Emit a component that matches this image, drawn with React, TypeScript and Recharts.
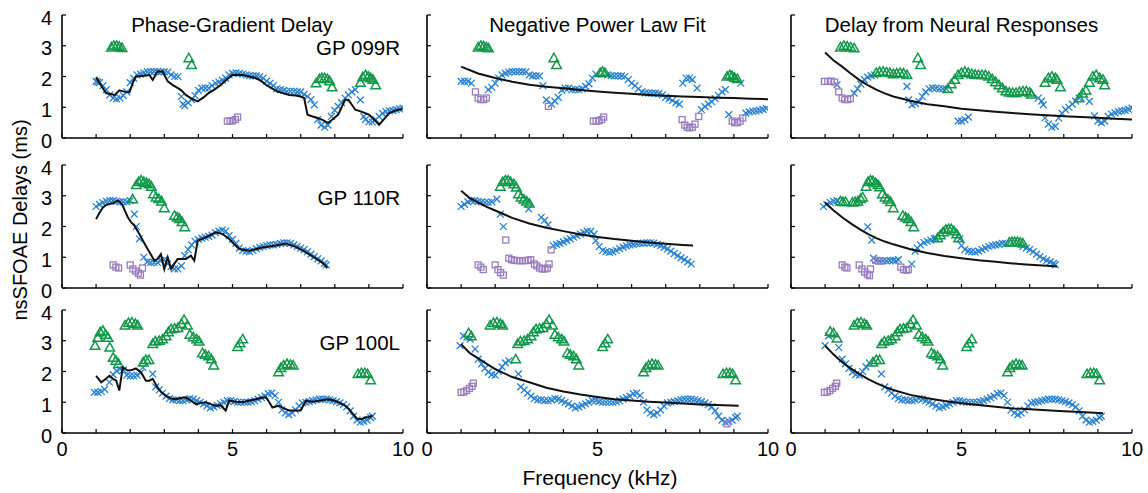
import { Scatter, ScatterChart, XAxis, YAxis } from "recharts"

type Pt = [number, number]

// axis ticks and labels
const xTicks = [0, 1, 2, 3, 4, 5, 6, 7, 8, 9, 10]
const xTickLabels = [0, 5, 10]
const yTicks = [0, 1, 2, 3, 4]
const columnTitles = ["Phase-Gradient Delay", "Negative Power Law Fit", "Delay from Neural Responses"]
const rowLabels = ["GP 099R", "GP 110R", "GP 100L"]

// ---- GP 099R ----
const r1c1Blue: Pt[] = [[1.0,1.84],[1.05,1.82],[1.1,1.8],[1.2,1.7],[1.3,1.57],[1.4,1.4],[1.5,1.3],[1.6,1.27],[1.7,1.3],[1.8,1.38],[1.9,1.5],[2.0,1.8],[2.1,1.95],[2.2,2.05],[2.3,2.08],[2.4,2.12],[2.5,2.15],[2.6,2.16],[2.7,2.16],[2.8,2.16],[2.9,2.15],[3.0,2.15],[3.1,2.14],[3.2,2.05],[3.3,2.0],[3.4,2.0],[3.5,1.35],[3.55,1.1],[3.6,1.05],[3.7,1.15],[3.8,1.25],[3.9,1.38],[4.0,1.55],[4.1,1.62],[4.2,1.62],[4.3,1.62],[4.4,1.7],[4.5,1.78],[4.6,1.82],[4.7,1.88],[4.8,1.95],[4.9,2.05],[5.0,2.1],[5.1,2.12],[5.2,2.1],[5.3,2.08],[5.4,2.05],[5.5,2.03],[5.6,2.02],[5.7,2.02],[5.8,2.0],[5.9,1.95],[6.0,1.85],[6.1,1.78],[6.2,1.7],[6.3,1.6],[6.4,1.57],[6.5,1.55],[6.6,1.52],[6.7,1.52],[6.8,1.52],[6.9,1.5],[7.0,1.5],[7.1,1.42],[7.2,1.35],[7.3,1.25],[7.4,1.08],[7.5,0.6],[7.6,0.42],[7.7,0.35],[7.8,0.42],[7.9,0.7],[8.0,0.9],[8.1,1.03],[8.2,1.15],[8.3,1.3],[8.4,1.4],[8.5,1.5],[8.6,1.57],[8.75,1.24],[8.85,0.7],[8.9,0.6],[9.0,0.52],[9.1,0.52],[9.2,0.6],[9.3,0.7],[9.4,0.8],[9.5,0.86],[9.6,0.88],[9.7,0.9],[9.8,0.92],[9.9,0.95],[10.0,0.97]]
const r1c1Green: Pt[] = [[1.45,2.95],[1.52,3.0],[1.6,3.0],[1.68,2.97],[1.76,2.93],[3.72,2.6],[3.8,2.38],[7.45,1.78],[7.55,1.92],[7.62,1.95],[7.7,1.95],[7.78,1.92],[7.85,1.85],[7.92,1.65],[8.75,1.8],[8.82,1.98],[8.9,2.05],[8.98,2.0],[9.05,1.95],[9.12,1.9],[9.2,1.72]]
const r1c1Purple: Pt[] = [[4.85,0.55],[4.93,0.55],[5.0,0.56],[5.08,0.6],[5.15,0.68]]
const r1c1Line: Pt[] = [[1.0,1.98],[1.15,1.7],[1.29,1.46],[1.45,1.42],[1.55,1.4],[1.68,1.55],[1.85,1.5],[1.98,1.49],[2.08,1.8],[2.17,2.0],[2.35,2.02],[2.56,2.05],[2.66,1.89],[2.8,2.16],[2.95,2.16],[3.1,1.84],[3.25,1.72],[3.4,1.62],[3.5,1.55],[3.63,1.4],[3.8,1.28],[3.98,1.19],[4.15,1.32],[4.3,1.46],[4.5,1.6],[4.66,1.73],[4.85,1.92],[5.0,2.05],[5.15,2.06],[5.3,2.05],[5.5,2.0],[5.68,1.95],[5.85,1.85],[5.98,1.73],[6.15,1.62],[6.32,1.51],[6.5,1.45],[6.66,1.4],[6.85,1.38],[7.0,1.35],[7.1,1.3],[7.2,0.76],[7.35,0.7],[7.5,0.65],[7.65,0.58],[7.8,0.49],[7.95,0.62],[8.1,0.76],[8.2,1.0],[8.3,1.24],[8.4,1.24],[8.5,1.08],[8.6,0.92],[8.8,0.85],[9.0,0.76],[9.15,0.6],[9.3,0.43],[9.45,0.62],[9.6,0.81],[9.8,0.9],[9.98,0.94]]

const r1c2Blue: Pt[] = [[1.0,1.84],[1.1,1.84],[1.2,1.84],[1.3,1.78],[1.8,1.57],[1.9,1.65],[2.0,1.78],[2.1,1.95],[2.2,2.05],[2.3,2.1],[2.4,2.14],[2.5,2.16],[2.6,2.16],[2.7,2.16],[2.8,2.16],[2.9,2.15],[3.0,2.05],[3.1,2.02],[3.2,2.02],[3.3,2.02],[3.4,1.7],[3.5,1.24],[3.65,1.1],[3.75,1.2],[3.85,1.32],[3.95,1.55],[4.05,1.62],[4.15,1.62],[4.25,1.57],[4.35,1.57],[4.45,1.57],[4.55,1.6],[4.65,1.68],[4.75,1.76],[4.85,1.95],[4.95,2.08],[5.3,2.05],[5.4,2.03],[5.5,2.02],[5.6,2.02],[5.7,2.02],[5.8,2.0],[5.9,1.9],[6.0,1.78],[6.1,1.7],[6.2,1.6],[6.3,1.5],[6.4,1.47],[6.5,1.46],[6.6,1.46],[6.7,1.46],[6.8,1.44],[6.9,1.4],[7.0,1.32],[7.1,1.28],[7.2,1.22],[7.3,1.15],[7.4,1.1],[7.5,1.78],[7.6,1.95],[7.7,1.95],[7.78,1.9],[7.92,1.62],[8.05,0.92],[8.15,1.02],[8.25,1.1],[8.35,1.18],[8.45,1.28],[8.55,1.38],[8.65,1.5],[8.75,1.57],[8.85,0.76],[9.2,1.78],[9.35,0.81],[9.45,0.85],[9.55,0.87],[9.65,0.88],[9.75,0.9],[9.85,0.93],[9.95,0.96]]
const r1c2Green: Pt[] = [[1.5,2.95],[1.58,3.0],[1.66,2.98],[1.74,2.95],[1.8,2.92],[3.72,2.6],[3.8,2.38],[5.08,2.12],[5.15,2.16],[5.22,2.12],[8.8,2.0],[8.88,2.05],[8.95,2.02],[9.02,1.96],[9.1,1.92]]
const r1c2Purple: Pt[] = [[1.42,1.5],[1.5,1.3],[1.58,1.25],[1.66,1.25],[1.74,1.3],[3.56,1.03],[4.88,0.55],[4.96,0.55],[5.04,0.56],[5.12,0.6],[5.18,0.68],[7.48,0.6],[7.56,0.42],[7.63,0.35],[7.7,0.33],[7.78,0.35],[7.86,0.45],[7.97,0.7],[8.95,0.55],[9.02,0.5],[9.1,0.5],[9.18,0.55],[9.26,0.65]]
const r1c2Fit: Pt[] = [[1.0,2.32],[1.5,2.1],[2.0,1.95],[2.5,1.83],[3.0,1.73],[3.5,1.67],[4.0,1.62],[4.5,1.56],[5.0,1.51],[5.5,1.47],[6.0,1.44],[6.5,1.4],[7.0,1.37],[7.5,1.35],[8.0,1.33],[8.5,1.31],[9.0,1.3],[9.5,1.28],[10.0,1.26]]

const r1c3Blue: Pt[] = [[1.35,1.73],[1.85,1.46],[1.95,1.6],[2.05,1.75],[2.15,1.9],[2.25,1.98],[2.35,2.03],[2.45,2.05],[3.4,1.68],[3.45,1.24],[3.55,1.08],[3.65,1.12],[3.75,1.18],[3.85,1.35],[3.95,1.5],[4.05,1.6],[4.15,1.63],[4.25,1.62],[4.35,1.6],[4.45,1.6],[4.55,1.6],[4.9,0.55],[5.0,0.55],[5.1,0.6],[5.2,0.68],[7.25,1.3],[7.35,1.2],[7.4,1.08],[7.45,0.65],[7.55,0.45],[7.65,0.35],[7.75,0.38],[7.85,0.65],[7.95,0.8],[8.05,0.92],[8.15,1.0],[8.25,1.1],[8.35,1.2],[8.45,1.3],[8.75,1.19],[8.9,0.72],[9.0,0.55],[9.1,0.5],[9.2,0.55],[9.3,0.7],[9.4,0.78],[9.5,0.82],[9.6,0.86],[9.7,0.88],[9.8,0.9],[9.9,0.93],[10.0,0.97]]
const r1c3Green: Pt[] = [[1.45,2.95],[1.55,3.0],[1.65,2.98],[1.75,2.95],[1.85,2.92],[3.72,2.6],[3.8,2.38],[2.5,2.12],[2.6,2.15],[2.7,2.16],[2.8,2.14],[2.9,2.12],[3.0,2.08],[3.1,2.1],[3.2,2.12],[3.3,2.1],[3.4,2.05],[4.6,1.6],[4.7,1.75],[4.8,1.9],[4.9,2.05],[5.0,2.12],[5.1,2.16],[5.2,2.12],[5.3,2.08],[5.4,2.06],[5.5,2.05],[5.6,2.05],[5.7,2.05],[5.8,2.0],[5.9,1.92],[6.0,1.82],[6.1,1.72],[6.2,1.62],[6.3,1.52],[6.4,1.48],[6.5,1.47],[6.6,1.47],[6.7,1.5],[6.8,1.52],[6.9,1.52],[7.0,1.48],[7.05,1.42],[7.45,1.8],[7.55,1.95],[7.65,2.0],[7.75,1.95],[7.8,1.9],[7.9,1.65],[8.45,1.3],[8.55,1.45],[8.65,1.55],[8.75,1.8],[8.85,2.0],[8.95,2.05],[9.05,1.95],[9.15,1.9],[9.2,1.72]]
const r1c3Purple: Pt[] = [[0.98,1.84],[1.08,1.84],[1.18,1.85],[1.28,1.82],[1.4,1.5],[1.5,1.3],[1.58,1.25],[1.66,1.25],[1.74,1.28]]
const r1c3Fit: Pt[] = [[1.0,2.78],[1.25,2.52],[1.5,2.32],[1.75,2.1],[2.0,1.89],[2.25,1.72],[2.5,1.57],[2.75,1.45],[3.0,1.35],[3.5,1.21],[4.0,1.1],[4.5,1.03],[5.0,0.95],[5.5,0.9],[6.0,0.85],[6.5,0.81],[7.0,0.77],[7.5,0.74],[8.0,0.71],[8.5,0.68],[9.0,0.66],[9.5,0.63],[10.0,0.6]]

// ---- GP 110R ----
const r2c1Blue: Pt[] = [[1.0,2.65],[1.1,2.72],[1.2,2.78],[1.3,2.82],[1.4,2.84],[1.5,2.84],[1.6,2.82],[1.7,2.8],[1.8,2.8],[1.9,2.8],[2.0,2.84],[2.12,2.4],[2.18,2.0],[2.27,1.6],[2.4,1.0],[2.5,0.85],[2.6,0.83],[2.7,0.83],[2.8,0.83],[2.9,0.9],[3.0,0.92],[3.1,0.78],[3.2,0.7],[3.3,0.62],[3.4,0.62],[3.5,0.72],[3.6,1.05],[3.7,1.25],[3.8,1.4],[3.9,1.52],[4.0,1.58],[4.1,1.62],[4.2,1.65],[4.3,1.68],[4.4,1.72],[4.5,1.8],[4.6,1.85],[4.7,1.88],[4.8,1.85],[4.9,1.7],[5.0,1.58],[5.1,1.45],[5.2,1.3],[5.3,1.22],[5.4,1.2],[5.5,1.18],[5.6,1.22],[5.7,1.28],[5.8,1.32],[5.9,1.35],[6.0,1.38],[6.1,1.4],[6.2,1.4],[6.3,1.42],[6.4,1.45],[6.5,1.47],[6.6,1.47],[6.7,1.45],[6.8,1.4],[6.9,1.35],[7.0,1.3],[7.1,1.25],[7.2,1.18],[7.3,1.1],[7.4,1.02],[7.5,0.95],[7.6,0.88],[7.7,0.8],[7.75,0.75]]
const r2c1Green: Pt[] = [[2.07,2.89],[2.18,3.35],[2.25,3.45],[2.32,3.5],[2.4,3.45],[2.48,3.42],[2.56,3.38],[2.62,3.3],[2.68,3.05],[2.76,2.95],[2.84,2.9],[2.92,2.82],[3.0,2.6],[3.3,2.35],[3.38,2.3],[3.45,2.25],[3.52,2.15],[3.6,1.98]]
const r2c1Purple: Pt[] = [[1.5,0.75],[1.58,0.68],[1.66,0.65],[2.0,0.75],[2.08,0.62],[2.16,0.55],[2.24,0.48],[2.3,0.42],[2.36,0.65]]
const r2c1Line: Pt[] = [[1.0,2.24],[1.1,2.45],[1.2,2.62],[1.3,2.7],[1.39,2.73],[1.5,2.76],[1.63,2.84],[1.7,2.8],[1.78,2.68],[1.85,2.5],[1.93,2.3],[2.02,2.15],[2.12,2.03],[2.22,1.85],[2.32,1.65],[2.42,1.45],[2.51,1.27],[2.61,1.08],[2.71,0.89],[2.8,0.94],[2.9,1.1],[3.0,0.62],[3.1,1.0],[3.2,0.62],[3.3,0.8],[3.39,0.94],[3.63,0.94],[3.78,1.05],[3.88,0.89],[3.98,1.54],[4.12,1.6],[4.32,1.7],[4.5,1.81],[4.7,1.76],[4.9,1.6],[5.05,1.42],[5.2,1.27],[5.5,1.21],[5.87,1.32],[6.27,1.38],[6.56,1.45],[6.85,1.34],[7.05,1.22],[7.24,1.1],[7.54,0.89],[7.66,0.8],[7.78,0.65]]

const r2c2Blue: Pt[] = [[1.0,2.65],[1.1,2.72],[1.2,2.8],[1.3,2.84],[1.4,2.84],[1.5,2.82],[1.6,2.8],[1.7,2.78],[1.8,2.78],[1.9,2.8],[2.05,2.89],[2.15,2.4],[2.24,2.0],[2.98,2.57],[3.35,2.3],[3.45,2.2],[3.55,2.05],[3.7,1.38],[3.8,1.42],[3.9,1.45],[4.0,1.5],[4.1,1.55],[4.2,1.6],[4.3,1.65],[4.4,1.7],[4.5,1.75],[4.6,1.8],[4.7,1.84],[4.8,1.84],[4.9,1.75],[4.95,1.54],[5.05,1.35],[5.15,1.22],[5.25,1.18],[5.35,1.16],[5.45,1.18],[5.55,1.22],[5.65,1.28],[5.75,1.33],[5.85,1.37],[5.95,1.4],[6.05,1.42],[6.15,1.44],[6.25,1.45],[6.35,1.46],[6.45,1.47],[6.55,1.47],[6.65,1.46],[6.75,1.42],[6.85,1.38],[6.95,1.32],[7.05,1.27],[7.15,1.2],[7.25,1.12],[7.35,1.05],[7.45,0.98],[7.55,0.92],[7.65,0.85],[7.75,0.78]]
const r2c2Green: Pt[] = [[2.15,3.3],[2.22,3.45],[2.3,3.5],[2.38,3.5],[2.45,3.45],[2.55,3.38],[2.62,3.27],[2.68,3.05],[2.76,2.95],[2.84,2.88],[2.92,2.82],[3.0,2.75]]
const r2c2Purple: Pt[] = [[1.5,0.75],[1.58,0.68],[1.65,0.6],[2.0,0.75],[2.08,0.6],[2.16,0.5],[2.24,0.42],[2.31,1.56],[2.4,0.97],[2.48,0.92],[2.56,0.9],[2.64,0.89],[2.72,0.89],[2.8,0.89],[2.88,0.89],[2.96,0.9],[3.04,0.92],[3.15,0.78],[3.22,0.72],[3.3,0.65],[3.38,0.62],[3.46,0.62],[3.53,0.65],[3.58,0.78],[3.64,1.24]]
const r2c2Fit: Pt[] = [[1.0,3.16],[1.25,2.93],[1.5,2.78],[1.75,2.64],[2.0,2.52],[2.5,2.28],[3.0,2.1],[3.5,1.96],[4.0,1.85],[4.5,1.74],[5.0,1.66],[5.5,1.59],[6.0,1.54],[6.5,1.48],[7.0,1.44],[7.5,1.4],[7.8,1.38]]

const r2c3Blue: Pt[] = [[0.95,2.65],[1.05,2.72],[1.15,2.78],[1.25,2.82],[1.35,2.84],[2.25,1.99],[2.37,1.56],[2.42,0.97],[2.5,0.9],[2.6,0.88],[2.7,0.88],[2.8,0.88],[2.9,0.9],[3.0,0.9],[3.08,0.88],[3.15,0.92],[3.54,0.78],[3.64,1.2],[3.7,1.3],[3.8,1.4],[3.9,1.48],[4.0,1.52],[4.1,1.56],[4.2,1.6],[4.25,1.62],[4.95,1.6],[5.0,1.38],[5.1,1.25],[5.2,1.2],[5.3,1.18],[5.4,1.17],[5.5,1.2],[5.6,1.25],[5.7,1.3],[5.8,1.35],[5.9,1.38],[6.0,1.4],[6.1,1.42],[6.2,1.45],[6.3,1.45],[6.8,1.35],[6.9,1.3],[7.0,1.25],[7.1,1.18],[7.2,1.1],[7.3,1.02],[7.4,0.95],[7.5,0.9],[7.6,0.85],[7.7,0.8],[7.75,0.76]]
const r2c3Green: Pt[] = [[1.45,2.82],[1.52,2.8],[1.6,2.8],[1.8,2.78],[1.88,2.8],[1.96,2.82],[2.04,2.9],[2.1,2.95],[2.2,3.3],[2.26,3.45],[2.33,3.5],[2.4,3.48],[2.48,3.42],[2.55,3.35],[2.6,3.28],[2.68,3.05],[2.76,2.95],[2.84,2.88],[2.92,2.8],[3.0,2.6],[3.28,2.35],[3.36,2.3],[3.44,2.25],[3.52,2.15],[3.6,1.98],[4.3,1.62],[4.38,1.72],[4.46,1.82],[4.54,1.9],[4.62,1.92],[4.7,1.92],[4.78,1.85],[4.86,1.75],[4.92,1.62],[6.4,1.48],[6.48,1.5],[6.56,1.5],[6.64,1.5],[6.72,1.48],[6.8,1.45]]
const r2c3Purple: Pt[] = [[1.5,0.75],[1.58,0.68],[1.64,0.65],[2.0,0.75],[2.08,0.62],[2.16,0.52],[2.24,0.45],[2.3,0.4],[2.33,0.62],[2.48,0.9],[2.56,0.88],[2.64,0.88],[3.22,0.68],[3.3,0.6],[3.38,0.58],[3.44,0.6]]
const r2c3Fit: Pt[] = [[1.0,2.78],[1.25,2.52],[1.5,2.3],[1.75,2.1],[2.0,1.92],[2.25,1.76],[2.5,1.62],[2.75,1.51],[3.0,1.42],[3.5,1.26],[4.0,1.14],[4.5,1.04],[5.0,0.97],[5.5,0.9],[6.0,0.85],[6.5,0.8],[7.0,0.76],[7.5,0.72],[7.8,0.7]]

// ---- GP 100L ----
const r3BlueTail: Pt[] = [[2.75,1.5],[2.85,1.4],[2.95,1.3],[3.05,1.2],[3.15,1.12],[3.25,1.08],[3.35,1.08],[3.45,1.05],[3.55,1.05],[3.65,1.08],[3.75,1.12],[3.85,1.1],[3.95,1.05],[4.05,1.0],[4.15,0.95],[4.25,0.88],[4.35,0.82],[4.45,0.85],[4.55,0.9],[4.65,0.95],[4.75,1.0],[4.85,1.05],[4.95,1.05],[5.05,1.02],[5.15,1.0],[5.25,1.0],[5.35,1.0],[5.45,1.0],[5.55,1.02],[5.65,1.05],[5.75,1.1],[5.85,1.15],[5.95,1.2],[6.05,1.28],[6.15,1.3],[6.25,1.22],[6.35,1.0],[6.45,0.75],[6.55,0.65],[6.65,0.6],[6.75,0.65],[6.85,0.75],[6.95,0.88],[7.05,0.98],[7.15,1.0],[7.25,1.02],[7.35,1.05],[7.45,1.08],[7.55,1.1],[7.65,1.1],[7.75,1.1],[7.85,1.08],[7.95,1.05],[8.05,1.02],[8.15,0.98],[8.25,0.92],[8.35,0.85],[8.45,0.72],[8.55,0.55],[8.65,0.42],[8.75,0.35],[8.85,0.38],[8.95,0.42],[9.05,0.5],[9.1,0.55]]
const r3c1BlueHead: Pt[] = [[0.95,1.32],[1.05,1.32],[1.15,1.35],[1.25,1.42],[1.39,1.65],[1.5,1.9],[1.6,2.02],[1.7,2.08],[1.8,2.05],[1.9,1.88],[2.0,1.86],[2.1,1.86],[2.2,1.88],[2.3,1.95],[2.37,2.13],[2.66,1.92]]
const r3c2BlueHead: Pt[] = [[0.97,2.84],[1.07,3.16],[1.17,3.12],[1.27,3.05],[1.41,2.73],[1.5,2.4],[1.6,2.25],[1.7,2.1],[1.8,1.98],[1.9,1.9],[2.0,1.88],[2.1,2.0],[2.2,2.15],[2.3,2.28],[2.4,2.35],[2.68,1.92]]
const r3c3BlueHead: Pt[] = [[1.0,2.84],[1.1,3.16],[1.4,2.78],[1.5,2.4],[1.6,2.25],[1.7,2.1],[1.8,1.98],[1.9,1.9],[2.0,1.88],[2.1,2.0],[2.2,2.15],[2.3,2.28],[2.65,1.92]]
const r3GreenCommon: Pt[] = [[1.85,3.5],[1.95,3.58],[2.05,3.6],[2.15,3.55],[2.22,3.5],[2.66,2.9],[2.74,2.98],[2.85,3.0],[2.95,3.05],[3.05,3.15],[3.12,3.28],[3.2,3.38],[3.3,3.4],[3.4,3.42],[3.5,3.55],[3.58,3.68],[3.68,3.5],[3.75,3.2],[3.85,3.12],[3.95,3.05],[4.02,2.98],[4.12,2.6],[4.2,2.55],[4.3,2.5],[4.38,2.4],[4.45,2.2],[5.15,2.8],[5.22,2.92],[5.3,3.05],[6.35,1.98],[6.42,2.12],[6.5,2.2],[6.6,2.25],[6.7,2.22],[6.78,2.2],[8.68,1.92],[8.78,1.95],[8.88,1.95],[8.96,1.92],[9.05,1.72]]
const r3c1GreenHead: Pt[] = [[0.97,2.84],[1.05,3.1],[1.12,3.28],[1.2,3.33],[1.28,3.2],[1.35,3.1],[1.4,2.78],[1.5,2.45],[1.58,2.35],[1.66,2.25],[2.38,2.3],[2.46,2.38],[2.55,2.38]]
const r3c2GreenHead: Pt[] = [[1.22,3.25],[1.3,3.15],[2.6,2.4]]
const r3c3GreenHead: Pt[] = [[1.15,3.3],[1.25,3.25],[1.35,3.08],[2.4,2.3],[2.5,2.38],[2.6,2.38]]
const r3c2Purple: Pt[] = [[1.0,1.32],[1.08,1.33],[1.16,1.38],[1.24,1.45],[1.32,1.52],[1.36,1.62],[8.8,0.3]]
const r3c3Purple: Pt[] = [[0.98,1.32],[1.06,1.33],[1.14,1.38],[1.22,1.45],[1.3,1.52],[1.34,1.62]]
const r3c1Line: Pt[] = [[1.0,1.86],[1.15,1.65],[1.27,1.75],[1.39,1.86],[1.5,1.76],[1.59,1.7],[1.68,1.38],[1.78,2.13],[1.93,2.03],[2.05,2.05],[2.17,2.1],[2.32,1.97],[2.46,1.7],[2.56,1.7],[2.66,1.76],[2.8,1.48],[2.92,1.32],[3.05,1.21],[3.2,1.12],[3.34,1.1],[3.48,1.14],[3.63,1.16],[3.78,1.05],[3.93,0.94],[4.08,0.98],[4.22,1.0],[4.36,0.94],[4.51,0.89],[4.65,0.9],[4.8,0.73],[4.9,1.05],[5.1,1.02],[5.29,1.0],[5.48,1.05],[5.68,1.1],[5.83,1.14],[5.98,1.16],[6.08,1.0],[6.17,0.83],[6.27,0.86],[6.37,0.89],[6.5,0.8],[6.66,0.73],[6.85,0.73],[7.0,0.73],[7.15,1.05],[7.35,1.02],[7.54,1.05],[7.7,1.08],[7.83,1.1],[8.0,1.05],[8.22,0.94],[8.32,0.88],[8.41,0.78],[8.55,0.6],[8.66,0.46],[8.78,0.45],[8.9,0.51],[9.0,0.52],[9.1,0.56]]
const r3c2Fit: Pt[] = [[1.0,2.89],[1.25,2.6],[1.5,2.43],[1.75,2.25],[2.0,2.08],[2.5,1.82],[3.0,1.65],[3.5,1.47],[4.0,1.35],[4.5,1.25],[5.0,1.17],[5.5,1.1],[6.0,1.06],[6.5,1.02],[7.0,0.99],[7.5,0.96],[8.0,0.93],[8.5,0.91],[9.14,0.89]]
const r3c3Fit: Pt[] = [[1.0,2.84],[1.25,2.55],[1.5,2.3],[1.75,2.1],[2.0,1.92],[2.25,1.76],[2.5,1.62],[2.75,1.5],[3.0,1.4],[3.5,1.24],[4.0,1.13],[4.5,1.04],[5.0,0.97],[5.5,0.91],[6.0,0.85],[6.5,0.8],[7.0,0.77],[7.5,0.74],[8.0,0.71],[8.5,0.68],[9.15,0.64]]

type Panel = { blue: Pt[]; green: Pt[]; purple: Pt[]; line: Pt[] }

const panels: Panel[][] = [
  [
    { blue: r1c1Blue, green: r1c1Green, purple: r1c1Purple, line: r1c1Line },
    { blue: r1c2Blue, green: r1c2Green, purple: r1c2Purple, line: r1c2Fit },
    { blue: r1c3Blue, green: r1c3Green, purple: r1c3Purple, line: r1c3Fit },
  ],
  [
    { blue: r2c1Blue, green: r2c1Green, purple: r2c1Purple, line: r2c1Line },
    { blue: r2c2Blue, green: r2c2Green, purple: r2c2Purple, line: r2c2Fit },
    { blue: r2c3Blue, green: r2c3Green, purple: r2c3Purple, line: r2c3Fit },
  ],
  [
    { blue: [...r3c1BlueHead, ...r3BlueTail], green: [...r3c1GreenHead, ...r3GreenCommon], purple: [], line: r3c1Line },
    { blue: [...r3c2BlueHead, ...r3BlueTail], green: [...r3c2GreenHead, ...r3GreenCommon], purple: r3c2Purple, line: r3c2Fit },
    { blue: [...r3c3BlueHead, ...r3BlueTail], green: [...r3c3GreenHead, ...r3GreenCommon], purple: r3c3Purple, line: r3c3Fit },
  ],
]

const BLUE = "#2680d2"
const GREEN = "#11984a"
const PURPLE = "#9a7cc0"
const FONT = "'Liberation Sans', Arial, Helvetica, sans-serif"

// layout (page pixels)
const COL_X = [61.5, 427, 791]
const ROW_Y = [15, 164.5, 309.5]
const PW = 341
const PH = 123
const YW = 50
const MT = 10
const MR = 14
const XH = 32

const toPts = (a: Pt[]) => a.map(([x, y]) => ({ x, y }))

const crossShape = (p: any) => {
  const { cx, cy } = p
  const s = 3.4
  return (
    <path
      d={`M${cx - s},${cy - s}L${cx + s},${cy + s}M${cx - s},${cy + s}L${cx + s},${cy - s}`}
      stroke={BLUE}
      strokeWidth={1.3}
      fill="none"
    />
  )
}

const triangleShape = (p: any) => {
  const { cx, cy } = p
  return (
    <path
      d={`M${cx},${cy - 4.8}L${cx + 4.8},${cy + 3.6}L${cx - 4.8},${cy + 3.6}Z`}
      stroke={GREEN}
      strokeWidth={1.5}
      fill="none"
    />
  )
}

const squareShape = (p: any) => {
  const { cx, cy } = p
  return <rect x={cx - 3} y={cy - 3} width={6} height={6} stroke={PURPLE} strokeWidth={1.3} fill="none" />
}

const noShape = () => <g />

function PanelChart({ row, col, panel }: { row: number; col: number; panel: Panel }) {
  const axisY = MT + PH
  const showX = row === 2
  const showY = col === 0

  const xTick = (p: any) => {
    const v = p.payload.value
    return (
      <g>
        <line x1={p.x} x2={p.x} y1={axisY} y2={axisY - 4} stroke="#000" strokeWidth={1.2} />
        {showX && xTickLabels.includes(v) && (
          <text x={p.x} y={axisY + 16} textAnchor="middle" dominantBaseline="central" fontSize={20} fontFamily={FONT} fill="#000">
            {v}
          </text>
        )}
      </g>
    )
  }

  const yTick = (p: any) => {
    const v = p.payload.value
    return (
      <g>
        <line x1={YW} x2={YW + 4} y1={p.y} y2={p.y} stroke="#000" strokeWidth={1.2} />
        {showY && (
          <text x={YW - 10} y={p.y + 2.5} textAnchor="end" dominantBaseline="central" fontSize={20} fontFamily={FONT} fill="#000">
            {v}
          </text>
        )}
      </g>
    )
  }

  return (
    <div style={{ position: "absolute", left: COL_X[col] - YW, top: ROW_Y[row] - MT }}>
      <ScatterChart width={YW + PW + MR} height={MT + PH + XH} margin={{ top: MT, right: MR, bottom: 0, left: 0 }}>
        <XAxis
          type="number"
          dataKey="x"
          domain={[0, 10]}
          ticks={xTicks}
          interval={0}
          height={XH}
          allowDataOverflow
          axisLine={{ stroke: "#000", strokeWidth: 1.6 }}
          tickLine={false}
          tick={xTick}
        />
        <YAxis
          type="number"
          dataKey="y"
          domain={[0, 4]}
          ticks={yTicks}
          interval={0}
          width={YW}
          allowDataOverflow
          axisLine={{ stroke: "#000", strokeWidth: 1.6 }}
          tickLine={false}
          tick={yTick}
        />
        <Scatter data={toPts(panel.blue)} shape={crossShape} isAnimationActive={false} />
        <Scatter data={toPts(panel.purple)} shape={squareShape} isAnimationActive={false} />
        <Scatter data={toPts(panel.green)} shape={triangleShape} isAnimationActive={false} />
        <Scatter
          data={toPts(panel.line)}
          shape={noShape}
          line={{ stroke: "#111", strokeWidth: 2 }}
          isAnimationActive={false}
        />
      </ScatterChart>
    </div>
  )
}

export default function App() {
  return (
    <div style={{ position: "absolute", left: 0, top: 0, width: 1148, height: 493, background: "#fff", fontFamily: FONT }}>
      {panels.map((rowPanels, r) =>
        rowPanels.map((panel, c) => <PanelChart key={`${r}-${c}`} row={r} col={c} panel={panel} />)
      )}
      <svg width={1148} height={493} style={{ position: "absolute", left: 0, top: 0, pointerEvents: "none" }}>
        {columnTitles.map((t, c) => (
          <text key={t} x={COL_X[c] + PW / 2} y={24} textAnchor="middle" dominantBaseline="central" fontSize={20.5} fontFamily={FONT} fill="#000">
            {t}
          </text>
        ))}
        {rowLabels.map((t, r) => (
          <text key={t} x={400} y={ROW_Y[r] + 32.5} textAnchor="end" dominantBaseline="central" fontSize={20.5} fontFamily={FONT} fill="#000">
            {t}
          </text>
        ))}
        <text x={20} y={220} transform="rotate(-90 20 220)" textAnchor="middle" dominantBaseline="central" fontSize={20} fontFamily={FONT} fill="#000">
          nsSFOAE Delays (ms)
        </text>
        <text x={600} y={477} textAnchor="middle" dominantBaseline="central" fontSize={21} fontFamily={FONT} fill="#000">
          Frequency (kHz)
        </text>
      </svg>
    </div>
  )
}
